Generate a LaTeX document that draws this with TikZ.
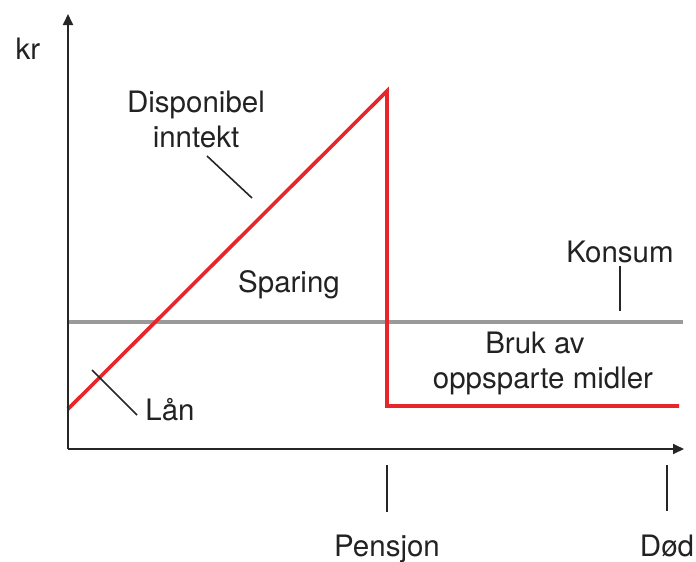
\documentclass[tikz,border=0pt]{standalone}
\usepackage{fontspec}
\setmainfont{TeX Gyre Heros}
\usetikzlibrary{arrows.meta}
\definecolor{redline}{HTML}{E8262A}
\definecolor{grayline}{HTML}{9A9A9A}
\definecolor{txt}{HTML}{222222}
\begin{document}
\begin{tikzpicture}[x=1pt,y=-1pt,
  axis/.style={line width=1.8pt,draw=black!85,-{Triangle[length=11pt,width=10pt]}},
  income/.style={line width=3.6pt,draw=redline,line join=miter},
  consum/.style={line width=3.6pt,draw=grayline},
  leader/.style={line width=1.6pt,draw=black!85},
  tick/.style={line width=1.6pt,draw=black!85},
  lbl/.style={text=txt,font=\fontsize{29.5}{35}\selectfont,inner sep=0pt,align=center}]
\useasboundingbox (0,0) rectangle (696,562);
% axes
\coordinate (O) at (68,449);
\coordinate (ytop) at (68,14);
\coordinate (xend) at (684,449);
% curves
\coordinate (r0) at (68,409);
\coordinate (r1) at (387,91);
\coordinate (r2) at (387,406);
\coordinate (r3) at (679,406);
\coordinate (g0) at (68,322);
\coordinate (g1) at (683,322);
\draw[consum] (g0) -- (g1);
\draw[income] (r0) -- (r1) -- (r2) -- (r3);
\draw[axis] (O) -- (ytop);
\draw[axis] (O) -- (xend);
% ticks
\coordinate (pt0) at (387,465); \coordinate (pt1) at (387,512);
\coordinate (dt0) at (667,465); \coordinate (dt1) at (667,511);
\draw[tick] (pt0) -- (pt1);
\draw[tick] (dt0) -- (dt1);
% labels
\node[lbl,anchor=base] (kr) at (28,59) {kr};
\node[lbl,anchor=base] (disp) at (196,112) {Disponibel};
\node[lbl,anchor=base] (innt) at (196,147) {inntekt};
\node[lbl,anchor=base] (spar) at (289,292) {Sparing};
\node[lbl,anchor=base] (kons) at (620,262) {Konsum};
\node[lbl,anchor=base] (bruk) at (535,353) {Bruk av};
\node[lbl,anchor=base] (opps) at (543,388) {oppsparte midler};
\node[lbl,anchor=base] (laan) at (170,420) {Lån};
\node[lbl,anchor=base] (pens) at (387,556) {Pensjon};
\node[lbl,anchor=base] (dod) at (667,556) {Død};
% leaders
\coordinate (dl0) at (207,156); \coordinate (dl1) at (252,198);
\draw[leader] (dl0) -- (dl1);
\coordinate (kl0) at (620,266); \coordinate (kl1) at (620,311);
\draw[leader] (kl0) -- (kl1);
\coordinate (ll0) at (92,370); \coordinate (ll1) at (137,415);
\draw[leader] (ll0) -- (ll1);
\end{tikzpicture}
\end{document}
